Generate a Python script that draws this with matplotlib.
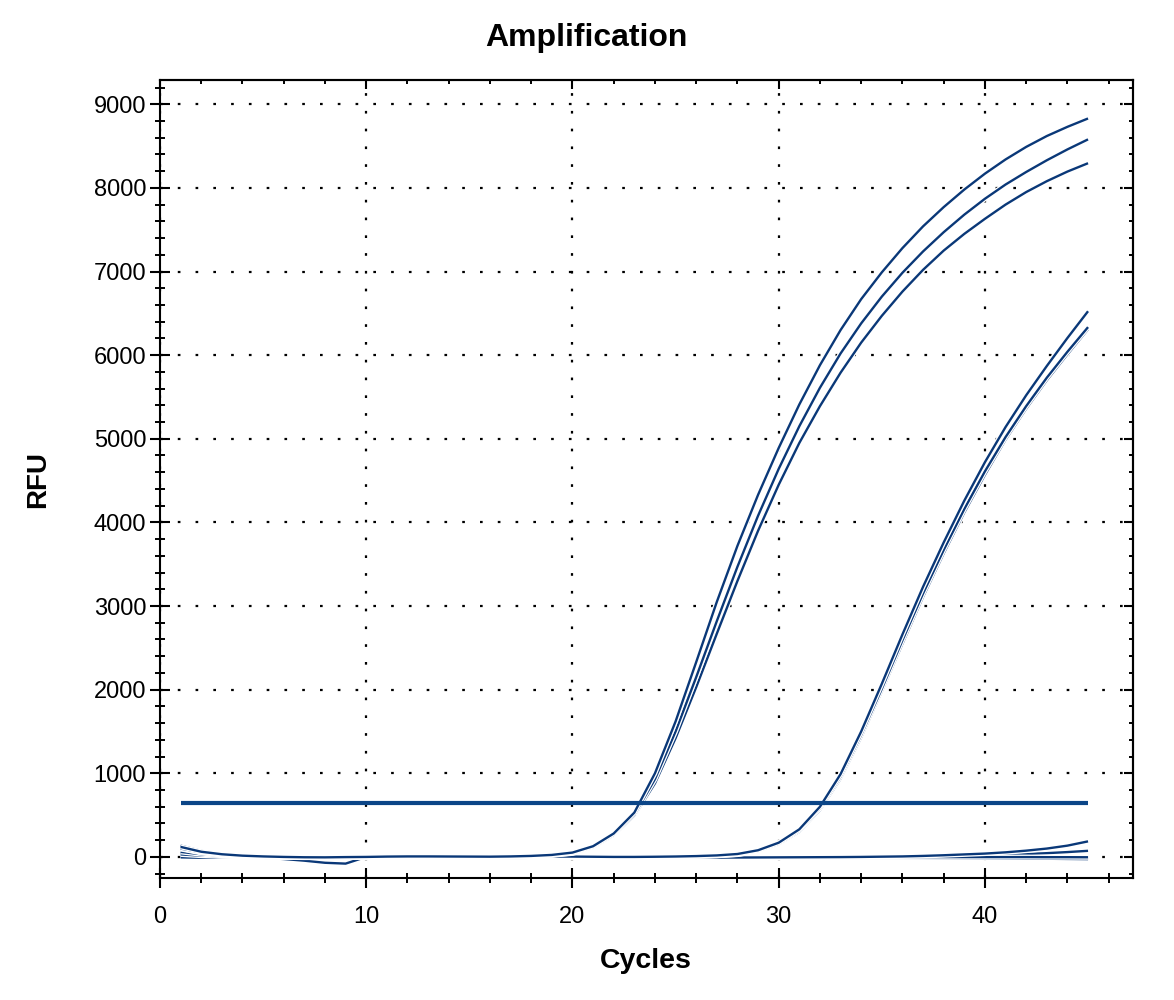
import matplotlib
matplotlib.use("Agg")
import matplotlib.pyplot as plt
import matplotlib.patheffects as pe
from matplotlib.ticker import MultipleLocator

plt.rcParams['font.family'] = ['Liberation Sans', 'DejaVu Sans']

cycles = list(range(1, 46))

a1 = [120, 62, 32, 15, 6, 0, -4, -5, -2, 0,
      4, 6, 6, 5, 4, 3, 6, 12, 24, 52,
      128, 280, 530, 1000, 1620, 2330, 3050, 3720, 4330, 4890,
      5410, 5880, 6300, 6670, 6990, 7280, 7540, 7770, 7980, 8170,
      8340, 8490, 8620, 8730, 8830]
a2 = [100, 55, 26, 10, 4, 0, -3, -4, -2, 0,
      5, 8, 7, 6, 3, 2, 5, 10, 22, 46,
      118, 265, 505, 930, 1500, 2150, 2820, 3470, 4080, 4640,
      5150, 5610, 6020, 6380, 6700, 6985, 7240, 7470, 7680, 7870,
      8040, 8190, 8330, 8460, 8580]
a3 = [135, 72, 36, 16, 6, 1, -3, -3, -1, 0,
      3, 5, 6, 4, 2, 1, 4, 9, 20, 42,
      110, 255, 490, 880, 1420, 2030, 2670, 3300, 3900, 4450,
      4950, 5390, 5790, 6150, 6470, 6760, 7020, 7250, 7450, 7630,
      7800, 7950, 8080, 8195, 8295]
b1 = [95, 48, 22, 8, 2, -2, -5, -6, -3, 0,
      6, 9, 8, 6, 2, -2, 0, 3, 5, 4,
      2, 0, 0, 2, 5, 10, 18, 35, 80, 170,
      330, 600, 990, 1500, 2070, 2660, 3230, 3760, 4260, 4720,
      5140, 5520, 5870, 6205, 6525]
b2 = [60, 32, 16, 6, 0, -5, -8, -8, -4, 0,
      8, 12, 10, 7, 0, -6, -4, 0, 2, 2,
      0, -2, -2, 0, 3, 8, 15, 30, 72, 158,
      315, 580, 960, 1460, 2010, 2590, 3150, 3670, 4160, 4610,
      5020, 5390, 5730, 6040, 6335]
b3 = [110, 58, 28, 12, 3, -3, -6, -7, -4, 0,
      4, 7, 6, 4, 0, -4, -3, 0, 3, 3,
      1, -1, -1, 1, 4, 8, 14, 28, 68, 150,
      300, 560, 935, 1430, 1980, 2550, 3110, 3630, 4120, 4570,
      4990, 5360, 5700, 6010, 6310]
c1 = [30, 15, 8, 3, 0, -2, -3, -3, -2, 0,
      6, 10, 10, 8, 2, -8, -14, -10, -5, -2,
      0, 0, -2, -4, -6, -8, -8, -7, -6, -5,
      -4, -3, -2, 0, 3, 6, 12, 20, 30, 40,
      55, 75, 100, 135, 186]
c2 = [-5, -10, -8, -5, -3, -3, -3, -2, -1, 0,
      5, 8, 8, 6, 0, -10, -18, -12, -6, -3,
      -2, -3, -4, -6, -8, -10, -10, -9, -8, -7,
      -6, -5, -4, -3, -2, 0, 3, 7, 12, 18,
      25, 34, 45, 58, 73]
c3 = [5, -8, -10, -6, -10, -25, -45, -70, -80, 0,
      5, 8, 8, 6, 0, -10, -16, -10, -6, -4,
      -4, -6, -8, -10, -12, -13, -14, -14, -13, -12,
      -12, -12, -12, -12, -12, -12, -13, -14, -15, -16,
      -18, -20, -22, -24, -26]
c4 = [45, 25, 12, 5, 1, -1, -2, -2, -1, 0,
      4, 7, 7, 5, 1, -5, -8, -5, -2, 0,
      1, 1, 0, -1, -2, -3, -3, -3, -2, -2,
      -2, -2, -2, -2, -2, -2, -2, -2, -2, -2,
      -2, -2, -3, -3, -4]

series = [c3, c2, c4, c1, b3, b2, b1, a3, a2, a1]
threshold = 650
x_ticks = [0, 10, 20, 30, 40]
y_ticks = [0, 1000, 2000, 3000, 4000, 5000, 6000, 7000, 8000, 9000]

line_color = '#0a3878'
thr_color = '#0b4587'

fig = plt.figure(figsize=(11.74, 10), dpi=100)
ax = fig.add_axes([160/1174, 1 - 878/1000, (1133 - 160)/1174, (878 - 80)/1000])

for s in series:
    ax.plot(cycles, s, color=line_color, lw=1.7, solid_capstyle='butt',
            solid_joinstyle='round',
            path_effects=[pe.Stroke(linewidth=3.6, foreground='white'), pe.Normal()],
            zorder=3)

ax.plot([cycles[0], cycles[-1]], [threshold, threshold], color=thr_color, lw=3.0,
        solid_capstyle='butt', zorder=4)

ax.set_xlim(0, 47.18)
ax.set_ylim(-252, 9290)
ax.set_xticks(x_ticks)
ax.set_yticks(y_ticks)
ax.xaxis.set_minor_locator(MultipleLocator(2))
ax.yaxis.set_minor_locator(MultipleLocator(200))

ax.grid(True, which='major', color='black', linestyle=(0, (1.2, 6.8)), linewidth=1.6, zorder=1)
ax.set_axisbelow(True)

ax.tick_params(axis='both', which='major', direction='inout', length=14, width=1.5,
               labelsize=17, colors='black')
ax.tick_params(axis='both', which='minor', direction='inout', length=7, width=1.4)
ax.tick_params(axis='x', which='major', pad=13)
ax.tick_params(axis='y', which='major', pad=3)

for sp in ax.spines.values():
    sp.set_linewidth(1.5)

secx = ax.secondary_xaxis('top')
secx.set_xticks(x_ticks)
secx.xaxis.set_minor_locator(MultipleLocator(2))
secx.tick_params(which='major', direction='in', length=6.5, width=1.5, labeltop=False)
secx.tick_params(which='minor', direction='in', length=3.2, width=1.4)
secx.spines['top'].set_linewidth(1.5)

secy = ax.secondary_yaxis('right')
secy.set_yticks(y_ticks)
secy.yaxis.set_minor_locator(MultipleLocator(200))
secy.tick_params(which='major', direction='in', length=6.5, width=1.5, labelright=False)
secy.tick_params(which='minor', direction='in', length=3.2, width=1.4)
secy.spines['right'].set_linewidth(1.5)

fig.text(586/1174, 1 - 38/1000, 'Amplification', ha='center', va='center',
         fontsize=23, fontweight='bold')
fig.text(646/1174, 1 - 961/1000, 'Cycles', ha='center', va='center',
         fontsize=20.5, fontweight='bold')
fig.text(38/1174, 1 - 480/1000, 'RFU', ha='center', va='center', rotation=90,
         fontsize=20, fontweight='bold')

fig.savefig('out.png', dpi=100, facecolor='white')
